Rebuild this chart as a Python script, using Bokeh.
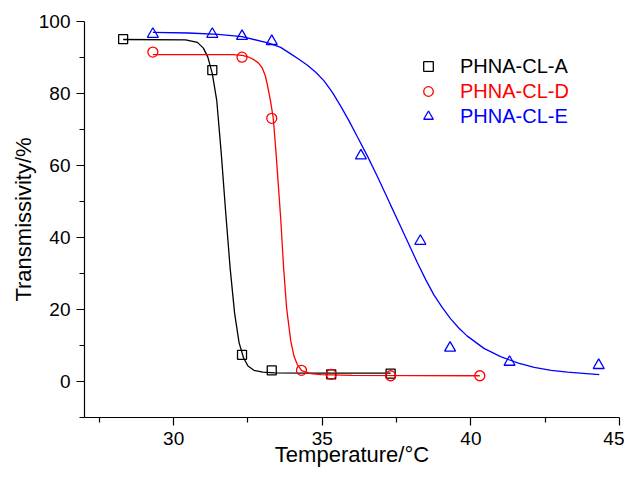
from bokeh.plotting import figure
from bokeh.models import FixedTicker, Legend, LegendItem
from bokeh.embed import file_html
from bokeh.resources import INLINE

# ---- data ----
temp_a = [28.3, 31.3, 32.3, 33.3, 35.3, 37.3]
trans_a = [95.1, 86.5, 7.4, 3.1, 2.0, 2.2]
temp_d = [29.3, 32.3, 33.3, 34.3, 35.3, 37.3, 40.3]
trans_d = [91.5, 90.1, 73.1, 3.1, 2.0, 1.6, 1.6]
temp_e = [29.3, 31.3, 32.3, 33.3, 36.3, 38.3, 39.3, 41.3, 44.3]
trans_e = [96.5, 96.5, 95.9, 94.5, 62.7, 39.0, 9.3, 5.4, 4.5]

# fitted curves
fit_a_x = [28.3, 30.4, 30.8, 31.0, 31.15, 31.3, 31.45, 31.6, 31.75, 31.9, 32.05,
           32.2, 32.35, 32.5, 32.7, 33.0, 33.4, 34.5, 37.3]
fit_a_y = [95.0, 94.9, 94.2, 92.6, 90.1, 85.5, 78.0, 63.5, 47.0, 31.5, 19.0,
           10.8, 6.6, 4.3, 3.1, 2.6, 2.4, 2.3, 2.3]
fit_d_x = [29.3, 32.0, 32.31, 32.5, 32.7, 32.85, 32.98, 33.08, 33.15, 33.26, 33.35,
           33.44, 33.52, 33.6, 33.7, 33.8, 33.94, 34.05, 34.16, 34.31, 34.61, 34.95,
           36.0, 40.3]
fit_d_y = [90.8, 90.8, 90.6, 90.2, 89.4, 88.5, 87.1, 85.0, 82.5, 77.9, 73.2,
           64.0, 54.7, 45.4, 31.5, 20.4, 11.2, 7.0, 4.7, 3.05, 2.2, 1.9,
           1.7, 1.6]
fit_e_x = [29.3, 30.5, 31.5, 32.3, 33.2, 33.6, 33.94, 34.2, 34.49, 34.78, 35.06,
           35.34, 35.62, 35.9, 36.18, 36.52, 36.85, 37.3, 37.64, 37.92, 38.2, 38.48,
           38.76, 39.04, 39.32, 39.6, 39.88, 40.44, 41.0, 41.6, 42.13, 42.7, 43.25, 44.32]
fit_e_y = [97.0, 96.8, 96.4, 95.8, 94.0, 92.8, 91.0, 89.6, 87.9, 85.9, 83.5,
           80.3, 76.5, 72.4, 68.0, 62.6, 57.0, 49.0, 43.0, 38.0, 33.0, 28.3,
           24.0, 20.5, 17.4, 14.8, 12.6, 9.2, 6.9, 5.1, 3.9, 3.1, 2.6, 1.9]

series_names = ["PHNA-CL-A", "PHNA-CL-D", "PHNA-CL-E"]
x_major = [30, 35, 40, 45]
x_minor = [27.5, 32.5, 37.5, 42.5]
y_major = [0, 20, 40, 60, 80, 100]
y_minor = [-10, 10, 30, 50, 70, 90]

FONT = "Liberation Sans"

p = figure(width=624, height=469, x_range=(27, 45), y_range=(-10, 100),
           output_backend="svg", toolbar_location=None,
           min_border_left=84, min_border_right=5, min_border_top=21, min_border_bottom=52)
p.outline_line_color = None
p.xgrid.visible = False
p.ygrid.visible = False
p.background_fill_color = "white"
p.border_fill_color = "white"

for ax, major, minor in ((p.xaxis[0], x_major, x_minor), (p.yaxis[0], y_major, y_minor)):
    ax.ticker = FixedTicker(ticks=major, minor_ticks=minor)
    ax.major_tick_out = 8
    ax.major_tick_in = 0
    ax.minor_tick_out = 5
    ax.minor_tick_in = 0
    ax.axis_line_width = 1.2
    ax.major_tick_line_width = 1.2
    ax.minor_tick_line_width = 1.2
    ax.axis_line_color = "black"
    ax.major_tick_line_color = "black"
    ax.minor_tick_line_color = "black"
    ax.major_label_text_font = FONT
    ax.major_label_text_font_size = "19px"
    ax.major_label_text_color = "black"
    ax.axis_label_text_font = FONT
    ax.axis_label_text_font_size = "22px"
    ax.axis_label_text_font_style = "normal"
    ax.axis_label_text_color = "black"

p.xaxis.axis_label = "Temperature/°C"
p.yaxis.axis_label = "Transmissivity/%"
p.xaxis.major_label_standoff = 6
p.xaxis.axis_label_standoff = -6
p.yaxis.major_label_standoff = 6
p.yaxis.axis_label_standoff = 0

colors = ["black", "red", "blue"]
markers = ["square", "circle", "triangle"]
sizes = [9, 10, 11]
pts = [(temp_a, trans_a), (temp_d, trans_d), (temp_e, trans_e)]
fits = [(fit_a_x, fit_a_y), (fit_d_x, fit_d_y), (fit_e_x, fit_e_y)]

for (fx, fy), c in zip(fits, colors):
    p.line(fx, fy, line_color=c, line_width=1.3)

renderers = []
for (xs, ys), c, m, s in zip(pts, colors, markers, sizes):
    r = p.scatter(xs, ys, marker=m, size=s, fill_color=None, line_color=c, line_width=1.3)
    renderers.append(r)

legend_bottoms = [339, 314, 289]
for name, r, c, yb in zip(series_names, renderers, colors, legend_bottoms):
    leg = Legend(items=[LegendItem(label=name, renderers=[r])], location=(332, yb),
                 border_line_color=None, background_fill_alpha=0,
                 padding=0, margin=0, spacing=0,
                 glyph_width=24, glyph_height=24, label_height=24,
                 label_standoff=20, label_text_font=FONT,
                 label_text_font_size="20px", label_text_color=c)
    p.add_layout(leg)

open("out.html", "w").write(file_html(p, INLINE))
